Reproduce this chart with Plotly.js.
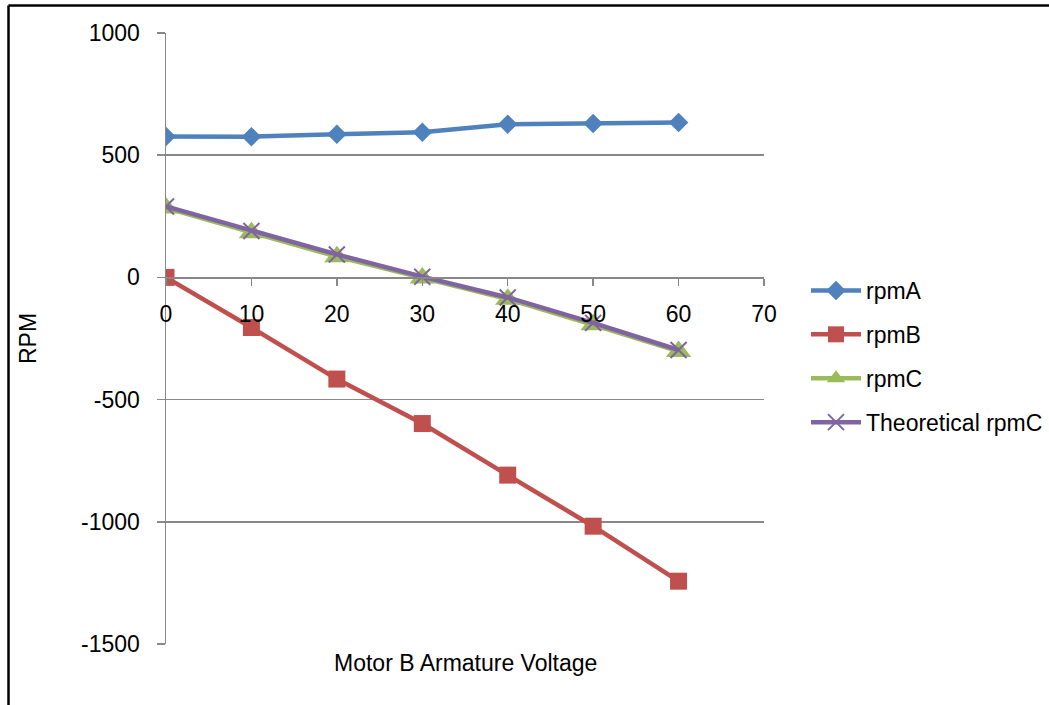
<!DOCTYPE html>
<html>
<head>
<meta charset="utf-8">
<script src="https://cdn.plot.ly/plotly-3.0.1.min.js"></script>
<style>
html,body{margin:0;padding:0;background:#fff;}
#chart{width:1049px;height:705px;}
</style>
</head>
<body>
<div id="chart"></div>
<script>
const voltage = [0, 10, 20, 30, 40, 50, 60];
const rpmA = [577, 576, 586, 594, 627, 630, 634];
const rpmB = [0, -205, -416, -598, -809, -1018, -1243];
const rpmC = [284, 183, 85, -2, -89, -194, -303];
const theoreticalRpmC = [290, 190, 94, 3, -82, -186, -297];
const xTicks = [0, 10, 20, 30, 40, 50, 60, 70];
const yTicks = [-1500, -1000, -500, 0, 500, 1000];

const FONT = 'Liberation Sans, Arial, sans-serif';
const FS = 23;
const GRID = '#888888';

// plot area in pixels: x 166..764, y 33..644
const L = 166, R = 1049 - 764, T = 33, B = 705 - 644;
const W = 1049 - L - R, H = 705 - T - B;
const px = v => (v - L) / W;
const py = v => (705 - B - v) / H;

const traces = [
  {name: 'rpmA', x: voltage, y: rpmA, color: '#4F81BD', symbol: 'diamond', size: 15},
  {name: 'rpmB', x: voltage, y: rpmB, color: '#C0504D', symbol: 'square', size: 17},
  {name: 'rpmC', x: voltage, y: rpmC, color: '#9BBB59', symbol: 'triangle-up', size: 22},
  {name: 'Theoretical rpmC', x: voltage, y: theoreticalRpmC, color: '#8064A2', symbol: 'x-thin', size: 16}
].map((t, i) => ({
  type: 'scatter', mode: 'lines+markers', name: t.name, x: t.x, y: t.y,
  legendgroup: 'g' + i,
  line: {color: t.color, width: 4.5},
  marker: {symbol: t.symbol, size: t.size, color: t.color,
           line: {color: t.color, width: t.symbol === 'x-thin' ? 2 : 0}}
}));

const layout = {
  width: 1049, height: 705,
  margin: {l: L, r: R, t: T, b: B, pad: 0, autoexpand: false},
  paper_bgcolor: '#ffffff', plot_bgcolor: '#ffffff',
  font: {family: FONT, size: FS, color: '#000'},
  showlegend: true,
  legend: {x: px(806), y: py(269), xanchor: 'left', yanchor: 'top',
           font: {family: FONT, size: FS, color: '#000'},
           itemwidth: 50,
           tracegroupgap: 11, bgcolor: 'rgba(0,0,0,0)'},
  xaxis: {
    range: [0, 70], tickvals: xTicks, ticktext: xTicks.map(String),
    anchor: 'free', position: py(277),
    showgrid: false, zeroline: false,
    showline: true, linecolor: GRID, linewidth: 1.5,
    ticks: 'outside', ticklen: 7, tickwidth: 1.5, tickcolor: GRID,
    ticklabelstandoff: 9,
    tickfont: {family: FONT, size: FS, color: '#000'}
  },
  yaxis: {
    range: [-1500, 1000], tickvals: yTicks, ticktext: yTicks.map(String),
    showgrid: true, gridcolor: GRID, gridwidth: 1.5, zeroline: false,
    showline: true, linecolor: GRID, linewidth: 1.5,
    ticks: 'outside', ticklen: 8, tickwidth: 1.5, tickcolor: GRID,
    ticklabelstandoff: 12,
    tickfont: {family: FONT, size: FS, color: '#000'},
    title: {text: 'RPM', font: {family: FONT, size: FS, color: '#000'}, standoff: 38}
  },
  annotations: [{
    text: 'Motor B Armature Voltage', xref: 'paper', yref: 'paper',
    x: 0.5, y: py(663), xanchor: 'center', yanchor: 'middle', showarrow: false,
    font: {family: FONT, size: FS, color: '#000'}
  }],
  shapes: [
    {type: 'line', xref: 'paper', yref: 'paper', x0: px(8.5), x1: px(1060), y0: py(5.5), y1: py(5.5),
     line: {color: '#000', width: 2.5}},
    {type: 'line', xref: 'paper', yref: 'paper', x0: px(8.5), x1: px(8.5), y0: py(5.5), y1: py(720),
     line: {color: '#000', width: 2.5}}
  ]
};

Plotly.newPlot('chart', traces, layout, {displayModeBar: false, staticPlot: true});
</script>
</body>
</html>
